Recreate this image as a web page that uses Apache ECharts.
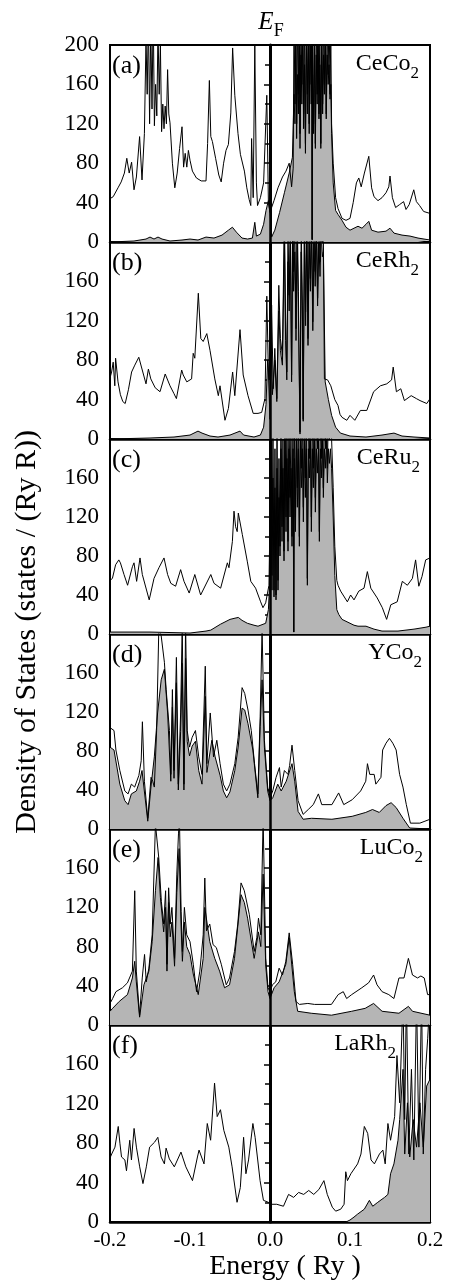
<!DOCTYPE html>
<html>
<head>
<meta charset="utf-8">
<title>Density of States</title>
<script src="https://cdn.jsdelivr.net/npm/echarts@6/dist/echarts.min.js"></script>
<style>
  html, body { margin: 0; padding: 0; background: #fff; }
  #chart { width: 454px; height: 1286px; }
</style>
</head>
<body>
<div id="chart"></div>
<script>
// energy (Ry) / DOS (states/(Ry R)) pairs
// total DOS = open line, f partial DOS = shaded
const ceco2Total = [[-0.2,44],[-0.196,46],[-0.19,55],[-0.186,61],[-0.182,70],[-0.179,85],[-0.176,70],[-0.173,81],[-0.17,53],[-0.167,66],[-0.163,107],[-0.16,63],[-0.157,110],[-0.155,205],[-0.1535,150],[-0.152,230],[-0.1505,120],[-0.149,220],[-0.1475,135],[-0.146,240],[-0.1445,118],[-0.143,160],[-0.1415,128],[-0.14,215],[-0.1385,150],[-0.137,200],[-0.1355,112],[-0.134,140],[-0.1325,115],[-0.131,138],[-0.1295,120],[-0.128,175],[-0.1265,130],[-0.125,121],[-0.122,80],[-0.119,55],[-0.116,70],[-0.113,95],[-0.11,117],[-0.108,76],[-0.106,90],[-0.104,76],[-0.102,93],[-0.1,83],[-0.097,72],[-0.092,65],[-0.086,62],[-0.08,62],[-0.078,100],[-0.0758,164],[-0.074,107],[-0.072,102],[-0.068,85],[-0.064,68],[-0.061,61],[-0.058,80],[-0.055,93],[-0.052,99],[-0.049,131],[-0.0467,197],[-0.044,149],[-0.04,110],[-0.037,89],[-0.035,91],[-0.032,72],[-0.029,55],[-0.026,43],[-0.024,37],[-0.023,105],[-0.021,45],[-0.019,200],[-0.017,60],[-0.0156,37],[-0.012,45],[-0.008,60],[-0.004,149],[-0.002,40],[0,30],[0.002,35],[0.005,42],[0.01,55],[0.0156,66],[0.02,72],[0.024,80],[0.027,56],[0.029,75],[0.03,230],[0.0312,140],[0.0322,240],[0.0333,120],[0.0343,220],[0.0355,150],[0.0365,240],[0.0375,110],[0.0387,230],[0.0398,160],[0.041,240],[0.042,130],[0.0432,220],[0.0443,100],[0.0455,240],[0.0467,150],[0.048,230],[0.049,120],[0.0502,240],[0.0515,160],[0.0522,230],[0.0527,3],[0.0532,210],[0.0545,120],[0.0555,240],[0.0567,100],[0.0578,230],[0.059,150],[0.06,240],[0.0612,130],[0.0623,220],[0.0635,100],[0.0646,240],[0.0658,140],[0.067,230],[0.068,160],[0.0692,240],[0.0703,130],[0.0715,230],[0.0727,170],[0.0738,240],[0.075,150],[0.076,210],[0.077,120],[0.079,80],[0.082,45],[0.085,34],[0.09,24],[0.095,22],[0.1,24],[0.104,40],[0.108,60],[0.111,65],[0.114,56],[0.118,70],[0.1235,87],[0.127,55],[0.13,46],[0.135,42],[0.14,45],[0.145,50],[0.1485,56],[0.15,67],[0.153,45],[0.157,35],[0.162,38],[0.167,41],[0.17,33],[0.174,38],[0.1797,53],[0.183,41],[0.187,37],[0.192,31],[0.2,29]];
const ceco2Part = [[-0.2,0],[-0.17,1],[-0.155,3],[-0.15,5],[-0.145,3],[-0.14,5],[-0.135,3],[-0.125,1],[-0.11,2],[-0.1,3],[-0.09,2],[-0.08,5],[-0.07,4],[-0.06,7],[-0.052,12],[-0.047,15],[-0.042,10],[-0.035,4],[-0.028,3],[-0.022,4],[-0.019,20],[-0.017,6],[-0.012,8],[-0.008,18],[-0.005,32],[-0.002,42],[0,30],[0.002,5],[0.006,12],[0.012,30],[0.018,50],[0.024,70],[0.028,86],[0.03,150],[0.0312,120],[0.0322,200],[0.0333,105],[0.0343,170],[0.0355,130],[0.0365,210],[0.0375,95],[0.0387,190],[0.0398,140],[0.041,220],[0.042,115],[0.0432,180],[0.0443,90],[0.0455,210],[0.0467,130],[0.048,200],[0.049,110],[0.0502,210],[0.0515,140],[0.0522,190],[0.0527,2],[0.0532,170],[0.0545,110],[0.0555,200],[0.0567,95],[0.0578,190],[0.059,140],[0.06,210],[0.0612,125],[0.0623,180],[0.0635,95],[0.0646,200],[0.0658,130],[0.067,190],[0.068,150],[0.0692,200],[0.0703,125],[0.0715,190],[0.0727,160],[0.0738,180],[0.075,145],[0.076,160],[0.077,110],[0.079,60],[0.082,32],[0.085,28],[0.09,22],[0.095,15],[0.1,12],[0.105,14],[0.11,16],[0.115,14],[0.12,18],[0.1235,21],[0.127,12],[0.135,10],[0.145,11],[0.15,14],[0.155,9],[0.165,7],[0.175,6],[0.185,4],[0.2,2]];

const cerh2Total = [[-0.2,62],[-0.198,68],[-0.196,78],[-0.194,54],[-0.193,82],[-0.19,58],[-0.187,45],[-0.184,38],[-0.181,36],[-0.177,50],[-0.173,68],[-0.169,75],[-0.164,83],[-0.159,68],[-0.155,56],[-0.152,71],[-0.149,61],[-0.1435,52],[-0.1375,48],[-0.131,66],[-0.125,54],[-0.12,46],[-0.117,41],[-0.1104,70],[-0.1085,65],[-0.104,58],[-0.098,61],[-0.096,87],[-0.094,82],[-0.0896,148],[-0.0865,102],[-0.0835,99],[-0.079,107],[-0.075,90],[-0.069,61],[-0.0646,44],[-0.0625,54],[-0.0563,19],[-0.052,31],[-0.0467,68],[-0.044,44],[-0.0375,111],[-0.0335,65],[-0.0275,44],[-0.021,26],[-0.015,26],[-0.0104,27],[-0.0063,41],[-0.004,145],[-0.002,68],[0,20],[0.002,136],[0.004,51],[0.006,92],[0.0085,41],[0.011,156],[0.013,102],[0.0155,85],[0.018,230],[0.0195,120],[0.021,68],[0.0225,210],[0.024,146],[0.0255,230],[0.027,65],[0.0285,240],[0.0295,170],[0.031,220],[0.0325,112],[0.034,230],[0.0355,150],[0.0375,7],[0.039,220],[0.0405,136],[0.0415,20],[0.043,230],[0.0445,129],[0.046,240],[0.0475,102],[0.049,230],[0.0505,163],[0.052,240],[0.0535,119],[0.055,230],[0.0565,170],[0.058,240],[0.0595,143],[0.061,230],[0.0625,180],[0.064,240],[0.0655,200],[0.0667,210],[0.068,61],[0.072,60],[0.076,54],[0.081,40],[0.085,34],[0.0875,25],[0.09,22],[0.096,19],[0.1,24],[0.106,19],[0.113,29],[0.121,29],[0.1295,48],[0.138,54],[0.146,56],[0.152,60],[0.154,73],[0.158,48],[0.1635,51],[0.168,39],[0.1765,44],[0.183,41],[0.1875,39],[0.196,36],[0.2,41]];
const cerh2Part = [[-0.2,0],[-0.15,1],[-0.12,2],[-0.1,4],[-0.09,8],[-0.085,6],[-0.075,3],[-0.065,2],[-0.05,4],[-0.0375,8],[-0.033,4],[-0.02,2],[-0.012,4],[-0.008,12],[-0.005,35],[-0.003,80],[-0.001,60],[0.001,110],[0.003,45],[0.006,80],[0.0085,38],[0.011,130],[0.013,90],[0.0155,75],[0.018,200],[0.0195,100],[0.021,60],[0.0225,180],[0.024,130],[0.0255,200],[0.027,58],[0.0285,210],[0.0295,150],[0.031,190],[0.0325,100],[0.034,200],[0.0355,130],[0.0375,5],[0.039,190],[0.0405,120],[0.0415,18],[0.043,200],[0.0445,115],[0.046,210],[0.0475,95],[0.049,200],[0.0505,150],[0.052,210],[0.0535,110],[0.055,200],[0.0565,155],[0.058,210],[0.0595,135],[0.061,200],[0.0625,165],[0.064,210],[0.0655,185],[0.0667,190],[0.069,58],[0.073,40],[0.077,24],[0.082,12],[0.088,6],[0.1,3],[0.12,2],[0.14,4],[0.155,6],[0.165,3],[0.18,2],[0.2,1]];

const ceru2Total = [[-0.2,55],[-0.197,57],[-0.193,71],[-0.189,76],[-0.187,73],[-0.1825,61],[-0.178,50],[-0.172,69],[-0.17,73],[-0.1667,54],[-0.1625,78],[-0.1596,61],[-0.151,35],[-0.145,57],[-0.1388,68],[-0.1325,78],[-0.128,61],[-0.124,52],[-0.118,49],[-0.1117,66],[-0.1075,54],[-0.101,42],[-0.094,61],[-0.0867,40],[-0.074,61],[-0.07,52],[-0.0617,47],[-0.0533,73],[-0.0513,68],[-0.047,95],[-0.045,126],[-0.043,110],[-0.041,105],[-0.0396,124],[-0.0346,102],[-0.0283,74],[-0.024,54],[-0.018,47],[-0.0117,33],[-0.0088,27],[-0.0054,32],[-0.0013,50],[0,120],[0.0012,230],[0.0025,60],[0.0037,210],[0.005,45],[0.0062,190],[0.0075,40],[0.0088,220],[0.01,55],[0.0112,180],[0.0125,90],[0.0137,230],[0.015,110],[0.0162,200],[0.0175,85],[0.0187,240],[0.02,120],[0.0212,220],[0.0225,95],[0.0237,230],[0.025,140],[0.0262,210],[0.0275,100],[0.0288,230],[0.0297,2],[0.0305,220],[0.0318,120],[0.033,240],[0.0342,150],[0.0355,230],[0.0367,100],[0.038,240],[0.0392,170],[0.0405,230],[0.0417,130],[0.043,240],[0.0442,160],[0.0455,230],[0.0467,57],[0.048,230],[0.0492,180],[0.0505,240],[0.0517,120],[0.053,230],[0.0542,170],[0.0555,240],[0.0567,140],[0.058,230],[0.0592,190],[0.0605,240],[0.0617,105],[0.063,230],[0.0642,180],[0.0655,240],[0.0667,150],[0.068,230],[0.0692,190],[0.0705,240],[0.0717,170],[0.073,230],[0.0742,200],[0.0755,230],[0.077,200],[0.079,150],[0.081,90],[0.0835,55],[0.085,50],[0.0883,44],[0.0967,33],[0.1008,40],[0.105,35],[0.111,44],[0.1175,47],[0.1217,64],[0.126,47],[0.134,37],[0.1404,27],[0.1458,15],[0.151,30],[0.159,33],[0.1654,54],[0.1717,50],[0.178,57],[0.182,76],[0.186,49],[0.19,59],[0.1946,76],[0.2,78]];
const ceru2Part = [[-0.2,2],[-0.15,2],[-0.1,1],[-0.08,3],[-0.074,4],[-0.062,10],[-0.05,15],[-0.045,16],[-0.0396,17],[-0.035,14],[-0.0283,11],[-0.02,9],[-0.015,8],[-0.0054,11],[-0.002,25],[0,60],[0.0012,180],[0.0025,45],[0.0037,160],[0.005,38],[0.0062,150],[0.0075,35],[0.0088,170],[0.01,45],[0.0112,140],[0.0125,80],[0.0137,190],[0.015,95],[0.0162,170],[0.0175,75],[0.0187,200],[0.02,105],[0.0212,180],[0.0225,85],[0.0237,190],[0.025,120],[0.0262,170],[0.0275,90],[0.0288,190],[0.0297,2],[0.0305,180],[0.0318,105],[0.033,200],[0.0342,130],[0.0355,190],[0.0367,90],[0.038,200],[0.0392,150],[0.0405,190],[0.0417,115],[0.043,200],[0.0442,140],[0.0455,190],[0.0467,50],[0.048,190],[0.0492,160],[0.0505,200],[0.0517,105],[0.053,190],[0.0542,150],[0.0555,200],[0.0567,125],[0.058,190],[0.0592,165],[0.0605,200],[0.0617,95],[0.063,190],[0.0642,160],[0.0655,200],[0.0667,140],[0.068,190],[0.0692,170],[0.0705,200],[0.0717,155],[0.073,190],[0.0742,175],[0.0755,190],[0.077,170],[0.079,120],[0.081,60],[0.0835,25],[0.086,20],[0.09,15],[0.095,13],[0.1,11],[0.105,9],[0.11,8],[0.12,8],[0.13,5],[0.14,3],[0.16,3],[0.18,5],[0.195,7],[0.2,8]];

const yco2Total = [[-0.2,104],[-0.195,101],[-0.1926,81],[-0.1877,60],[-0.1815,39],[-0.1774,36],[-0.1733,46],[-0.1692,43],[-0.1639,55],[-0.161,70],[-0.1595,110],[-0.157,49],[-0.1528,11],[-0.1487,53],[-0.1466,49],[-0.1446,43],[-0.1417,101],[-0.139,205],[-0.136,198],[-0.132,171],[-0.1298,143],[-0.1257,101],[-0.124,56],[-0.122,143],[-0.12,60],[-0.117,176],[-0.1146,46],[-0.1117,119],[-0.1097,210],[-0.1076,46],[-0.1055,210],[-0.1035,101],[-0.1006,84],[-0.0973,94],[-0.0932,101],[-0.0891,74],[-0.085,56],[-0.0809,167],[-0.0789,67],[-0.0747,119],[-0.0706,74],[-0.0665,91],[-0.0624,67],[-0.0583,46],[-0.0542,39],[-0.0501,46],[-0.044,67],[-0.0398,94],[-0.0349,145],[-0.0316,139],[-0.0275,122],[-0.0234,101],[-0.0193,67],[-0.0152,36],[-0.0123,115],[-0.0099,205],[-0.007,91],[-0.0029,43],[0,32],[0.0034,39],[0.0076,53],[0.0118,63],[0.014,43],[0.018,60],[0.0224,56],[0.0245,65],[0.0275,86],[0.0309,60],[0.0351,29],[0.0414,15],[0.0478,20],[0.0541,25],[0.0605,36],[0.0647,25],[0.0774,25],[0.0858,37],[0.0922,25],[0.1027,30],[0.1133,39],[0.1197,49],[0.1218,67],[0.1247,56],[0.1302,56],[0.1323,46],[0.1387,53],[0.1408,81],[0.145,88],[0.1493,93],[0.1535,88],[0.1577,81],[0.162,56],[0.1662,43],[0.1704,25],[0.1755,6],[0.1873,6],[0.1937,8],[0.2,10]];
const yco2Part = [[-0.2,84],[-0.195,81],[-0.1877,46],[-0.1815,29],[-0.1774,25],[-0.1733,36],[-0.1671,39],[-0.163,49],[-0.16,60],[-0.1528,8],[-0.1487,44],[-0.1466,43],[-0.1446,74],[-0.1405,119],[-0.136,153],[-0.132,164],[-0.128,119],[-0.124,49],[-0.122,125],[-0.12,52],[-0.117,150],[-0.1146,40],[-0.1117,100],[-0.1097,170],[-0.1076,40],[-0.1055,175],[-0.1035,90],[-0.1006,75],[-0.0973,85],[-0.0932,90],[-0.0891,60],[-0.085,46],[-0.0809,136],[-0.0789,58],[-0.0727,91],[-0.0686,74],[-0.0624,55],[-0.0583,39],[-0.0542,32],[-0.0501,38],[-0.044,60],[-0.0398,84],[-0.0349,124],[-0.0316,122],[-0.0275,108],[-0.0214,81],[-0.0152,32],[-0.0123,105],[-0.0099,153],[-0.007,84],[-0.0029,39],[0,29],[0.0034,32],[0.0097,46],[0.014,39],[0.0203,49],[0.0275,67],[0.0309,49],[0.0351,18],[0.0414,10],[0.052,11],[0.0774,10],[0.1027,13],[0.1197,17],[0.1281,20],[0.1366,17],[0.145,24],[0.1514,27],[0.1577,22],[0.1662,11],[0.1746,1],[0.2,0]];

const luco2Total = [[-0.2,22],[-0.1967,27],[-0.1926,34],[-0.1844,38],[-0.1782,43],[-0.172,55],[-0.1691,137],[-0.1671,55],[-0.163,10],[-0.1597,48],[-0.1568,72],[-0.1547,44],[-0.1514,58],[-0.1473,92],[-0.1432,205],[-0.1412,205],[-0.1391,171],[-0.1358,126],[-0.1329,103],[-0.1305,137],[-0.1288,62],[-0.1267,140],[-0.1247,103],[-0.1226,120],[-0.1193,68],[-0.1165,154],[-0.1144,195],[-0.1132,210],[-0.1111,116],[-0.1095,75],[-0.107,120],[-0.1041,92],[-0.1,85],[-0.0959,62],[-0.0918,34],[-0.0877,55],[-0.0835,92],[-0.0815,150],[-0.0794,96],[-0.0753,103],[-0.0712,82],[-0.0671,79],[-0.0609,62],[-0.0547,41],[-0.0506,48],[-0.0444,75],[-0.0403,103],[-0.0362,145],[-0.0321,137],[-0.0259,113],[-0.0198,75],[-0.0165,89],[-0.0144,109],[-0.0115,92],[-0.0086,210],[-0.0053,68],[-0.0025,38],[0,34],[0.003,41],[0.0072,44],[0.0114,58],[0.0156,51],[0.0198,65],[0.024,94],[0.0283,62],[0.0325,24],[0.0367,21],[0.0473,22],[0.0557,21],[0.0768,21],[0.0852,31],[0.0916,34],[0.0958,27],[0.1021,31],[0.1148,38],[0.1232,43],[0.1295,51],[0.1338,41],[0.1401,34],[0.1485,31],[0.1549,27],[0.1612,48],[0.1675,48],[0.173,68],[0.1781,51],[0.1844,48],[0.1886,50],[0.1928,48],[0.197,31],[0.2,31]];
const luco2Part = [[-0.2,14],[-0.1967,17],[-0.1885,24],[-0.1782,31],[-0.172,48],[-0.1691,65],[-0.1671,44],[-0.163,8],[-0.1576,41],[-0.1514,55],[-0.1473,85],[-0.1432,137],[-0.1399,171],[-0.137,130],[-0.1329,95],[-0.1305,120],[-0.1288,55],[-0.1267,125],[-0.1247,90],[-0.1226,105],[-0.1193,60],[-0.1165,135],[-0.1136,180],[-0.1111,100],[-0.1095,65],[-0.107,105],[-0.1041,80],[-0.1,72],[-0.0959,52],[-0.0897,31],[-0.0835,68],[-0.0815,120],[-0.0753,85],[-0.0691,68],[-0.063,55],[-0.0568,38],[-0.0506,41],[-0.0444,68],[-0.0362,133],[-0.0321,125],[-0.028,109],[-0.0198,68],[-0.0144,95],[-0.0115,80],[-0.0086,154],[-0.0053,60],[-0.0025,34],[0,27],[0.0051,38],[0.0114,44],[0.0198,62],[0.024,89],[0.0304,34],[0.0346,14],[0.0515,12],[0.0768,10],[0.1021,14],[0.119,17],[0.1295,22],[0.1401,14],[0.1612,12],[0.173,19],[0.1781,14],[0.2,10]];

const larh2Total = [[-0.2,65],[-0.1979,69],[-0.1938,76],[-0.1897,97],[-0.1876,80],[-0.1856,66],[-0.1814,63],[-0.1794,52],[-0.1753,83],[-0.1732,63],[-0.1699,95],[-0.167,76],[-0.1629,56],[-0.1588,39],[-0.1546,56],[-0.1505,76],[-0.1443,81],[-0.1402,86],[-0.1361,66],[-0.132,59],[-0.1299,75],[-0.1258,64],[-0.1196,56],[-0.1113,71],[-0.1052,56],[-0.0969,42],[-0.0907,66],[-0.0887,73],[-0.0825,59],[-0.0784,100],[-0.0742,83],[-0.0693,141],[-0.066,107],[-0.0619,114],[-0.0577,93],[-0.0515,76],[-0.0474,56],[-0.0412,20],[-0.0371,35],[-0.033,86],[-0.0301,49],[-0.0268,63],[-0.0214,100],[-0.0186,86],[-0.0124,42],[-0.0082,22],[-0.0021,20],[0.0008,18],[0.0084,18],[0.0168,16],[0.0232,28],[0.0295,25],[0.0358,30],[0.0421,28],[0.0484,32],[0.0547,28],[0.0611,33],[0.0674,42],[0.0716,28],[0.0779,15],[0.0821,11],[0.0884,13],[0.0926,18],[0.0947,51],[0.0968,42],[0.1011,49],[0.1095,59],[0.1137,69],[0.1179,97],[0.1221,90],[0.1263,63],[0.1305,59],[0.1368,69],[0.1411,73],[0.144,59],[0.1474,100],[0.1507,83],[0.1558,107],[0.1587,169],[0.1621,121],[0.1663,230],[0.1684,104],[0.1705,230],[0.1735,69],[0.1768,155],[0.1798,63],[0.1832,230],[0.1861,76],[0.1895,230],[0.1916,69],[0.1945,155],[0.1971,186],[0.2,230]];
const larh2Part = [[-0.2,0],[0.095,0],[0.1,2],[0.105,5],[0.1095,8],[0.1179,13],[0.1242,22],[0.1284,16],[0.1347,20],[0.1432,25],[0.1474,28],[0.1507,49],[0.1549,59],[0.16,83],[0.1621,104],[0.1663,155],[0.1684,69],[0.1718,121],[0.1747,66],[0.1789,104],[0.1832,76],[0.1874,121],[0.1916,76],[0.1958,138],[0.2,145]];

const panelTags = ['(a)', '(b)', '(c)', '(d)', '(e)', '(f)'];
const compounds = [['CeCo', '2'], ['CeRh', '2'], ['CeRu', '2'], ['YCo', '2'], ['LuCo', '2'], ['LaRh', '2']];
const totals = [ceco2Total, cerh2Total, ceru2Total, yco2Total, luco2Total, larh2Total];
const partials = [ceco2Part, cerh2Part, ceru2Part, yco2Part, luco2Part, larh2Part];

// layout
const serif = '"Liberation Serif", "Times New Roman", serif';
const tops = [45, 242, 439, 634, 829, 1025, 1222];
const gridLeft = 110, gridWidth = 320;
const nameRight = [419, 419, 420, 422, 423, 396];

var myChart = echarts.init(document.getElementById('chart'));

var grids = [], xAxes = [], yAxes = [], series = [], texts = [];
for (var i = 0; i < 6; i++) {
  var last = i === 5;
  grids.push({
    left: gridLeft, width: gridWidth, top: tops[i], height: tops[i + 1] - tops[i],
    show: true, borderColor: '#000', borderWidth: 2, backgroundColor: 'transparent'
  });
  xAxes.push({
    type: 'value', gridIndex: i, min: -0.2, max: 0.2, interval: 0.1,
    axisLine: { show: true, onZero: false, lineStyle: { color: '#000', width: 2.5 } },
    axisTick: { show: false },
    axisLabel: {
      show: last, color: '#000', fontFamily: serif, fontSize: 21, margin: 8,
      formatter: function (v) { return Math.abs(v) < 1e-9 ? '0.0' : v.toFixed(1); }
    },
    splitLine: { show: false }
  });
  yAxes.push({
    type: 'value', gridIndex: i, min: 0, max: 200, interval: 40,
    axisLine: { show: true, lineStyle: { color: '#000', width: 3 } },
    axisTick: { show: true, inside: false, length: 6, lineStyle: { color: '#000', width: 1.5 } },
    minorTick: { show: true, splitNumber: 2, length: 5, lineStyle: { color: '#000', width: 1.5 } },
    axisLabel: { showMaxLabel: i === 0, color: '#000', fontFamily: serif, fontSize: 23, margin: 11 },
    splitLine: { show: false }
  });
  // shaded f partial DOS
  series.push({
    type: 'line', xAxisIndex: i, yAxisIndex: i, data: partials[i],
    symbol: 'none', silent: true, z: 2,
    lineStyle: { color: '#000', width: 1 },
    areaStyle: { color: '#b5b5b5', opacity: 1 }
  });
  // total DOS + Fermi level
  series.push({
    type: 'line', xAxisIndex: i, yAxisIndex: i, data: totals[i],
    symbol: 'none', silent: true, z: 3,
    lineStyle: { color: '#000', width: 1 },
    markLine: {
      silent: true, symbol: 'none', label: { show: false },
      lineStyle: { color: '#000', width: 2.5, type: 'solid' },
      data: [{ xAxis: 0 }]
    }
  });
  texts.push({
    type: 'text', x: gridLeft + 2, y: tops[i] + 21, z: 10,
    style: { text: panelTags[i], font: '26px ' + serif, fill: '#000', textAlign: 'left', textVerticalAlign: 'middle', align: 'left', verticalAlign: 'middle' }
  });
  texts.push({
    type: 'text', x: nameRight[i], y: tops[i] + 22, z: 10,
    style: {
      text: '{m|' + compounds[i][0] + '}{s|' + compounds[i][1] + '}',
      textAlign: 'right', textVerticalAlign: 'middle', align: 'right', verticalAlign: 'middle',
      rich: {
        m: { fontFamily: serif, fontSize: 24, color: '#000', verticalAlign: 'bottom', padding: [0, 0, 6, 0] },
        s: { fontFamily: serif, fontSize: 17, color: '#000', verticalAlign: 'bottom' }
      }
    }
  });
}

texts.push({
  type: 'text', x: 271, y: 25,
  style: {
    text: '{e|E}{f|F}', textAlign: 'center', textVerticalAlign: 'middle', align: 'center', verticalAlign: 'middle',
    rich: {
      e: { fontFamily: serif, fontSize: 25, fontStyle: 'italic', color: '#000', verticalAlign: 'bottom', padding: [0, 0, 5, 0] },
      f: { fontFamily: serif, fontSize: 18, color: '#000', verticalAlign: 'bottom' }
    }
  }
});
texts.push({
  type: 'text', x: 27, y: 632, rotation: Math.PI / 2,
  style: { text: 'Density of States (states / (Ry R))', font: '30px ' + serif, fill: '#000', textAlign: 'center', textVerticalAlign: 'middle', align: 'center', verticalAlign: 'middle' }
});
texts.push({
  type: 'text', x: 285, y: 1267,
  style: { text: 'Energy ( Ry )', font: '28px ' + serif, fill: '#000', textAlign: 'center', textVerticalAlign: 'middle', align: 'center', verticalAlign: 'middle' }
});

var option = {
  animation: false,
  backgroundColor: '#fff',
  grid: grids,
  xAxis: xAxes,
  yAxis: yAxes,
  series: series,
  graphic: texts
};
// 使用刚指定的配置项和数据显示图表。
myChart.setOption(option);
</script>
</body>
</html>
